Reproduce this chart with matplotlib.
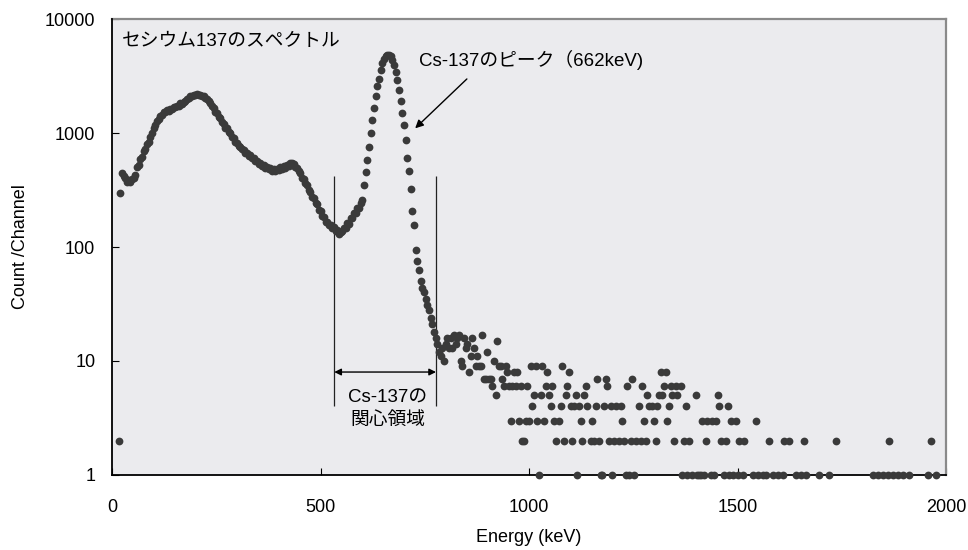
import numpy as np
import matplotlib
matplotlib.use("Agg")
import matplotlib.pyplot as plt
from matplotlib.ticker import NullLocator

plt.rcParams['font.family'] = ['Liberation Sans', 'Noto Sans CJK JP']

# spectrum: 4 keV per channel, 16 keV .. 776 keV
first_kev = 16
kev_per_channel = 4
main_counts = [
    2, 297, 450, 420, 400, 375, 390, 370, 395, 400,
    430, 500, 520, 590, 620, 700, 730, 800, 840, 930,
    1000, 1110, 1170, 1280, 1320, 1420, 1450, 1530, 1520, 1590,
    1560, 1640, 1620, 1700, 1680, 1740, 1740, 1820, 1800, 1890,
    1900, 1990, 2010, 2100, 2100, 2170, 2140, 2190, 2150, 2160,
    2110, 2100, 2020, 1990, 1900, 1850, 1720, 1660, 1540, 1500,
    1380, 1350, 1240, 1210, 1110, 1100, 1020, 1000, 930, 900,
    840, 820, 770, 760, 720, 710, 670, 670, 630, 640,
    600, 600, 565, 570, 540, 550, 515, 520, 490, 505,
    480, 490, 465, 480, 465, 488, 475, 500, 485, 510,
    495, 520, 510, 545, 550, 530, 500, 490, 465, 445,
    405, 395, 365, 350, 315, 305, 275, 270, 245, 236,
    212, 208, 186, 184, 166, 165, 156, 155, 146, 151,
    137, 142, 131, 136, 138, 148, 146, 162, 160, 180,
    180, 200, 200, 220, 222, 245, 257, 350, 457, 577,
    760, 1000, 1300, 1650, 2100, 2560, 3000, 3600, 4100, 4450,
    4700, 4850, 4850, 4700, 4350, 3950, 3460, 2920, 2400, 1920,
    1500, 1180, 870, 600, 465, 325, 208, 155, 94, 75,
    63, 50, 44, 40, 35, 31, 28, 24, 21, 18,
    16,
]

# sparse tail above the peak (empty channels are left out)
tail_energy = [
    780, 784, 788, 792, 796, 800, 804, 808, 812, 816, 820, 824, 828, 832, 836, 840,
    844, 848, 852, 856, 860, 864, 868, 872, 876, 880, 884, 888, 892, 896, 900, 904,
    908, 912, 916, 920, 924, 928, 932, 936, 940, 944, 948, 952, 956, 960, 964, 968,
    972, 976, 980, 984, 988, 992, 996, 1000, 1004, 1008, 1012, 1016, 1020, 1024,
    1028, 1032, 1036, 1040, 1044, 1048, 1052, 1056, 1060, 1064, 1072, 1076, 1080,
    1084, 1088, 1092, 1096, 1100, 1104, 1108, 1112, 1116, 1120, 1124, 1128, 1132,
    1136, 1140, 1148, 1152, 1156, 1160, 1164, 1168, 1172, 1176, 1180, 1184, 1188,
    1192, 1196, 1200, 1204, 1208, 1216, 1220, 1224, 1228, 1232, 1236, 1240, 1244,
    1248, 1252, 1256, 1264, 1268, 1272, 1276, 1280, 1284, 1288, 1296, 1300, 1304,
    1308, 1312, 1316, 1320, 1324, 1328, 1332, 1336, 1340, 1344, 1348, 1352, 1356,
    1364, 1368, 1372, 1376, 1380, 1384, 1392, 1400, 1404, 1408, 1412, 1416, 1420,
    1424, 1428, 1436, 1440, 1444, 1448, 1452, 1456, 1460, 1468, 1472, 1476, 1480,
    1484, 1488, 1496, 1500, 1504, 1512, 1516, 1536, 1544, 1548, 1560, 1568, 1576,
    1584, 1596, 1608, 1612, 1624, 1640, 1652, 1660, 1664, 1696, 1720, 1736, 1824,
    1836, 1848, 1860, 1864, 1872, 1884, 1896, 1912, 1956, 1964, 1976,
]
tail_counts = [
    14, 12, 11, 13, 10, 14, 16, 13, 16, 13, 17, 14, 16, 17, 10, 9,
    16, 13, 14, 8, 11, 16, 13, 9, 11, 9, 9, 17, 7, 7, 12, 7,
    7, 6, 10, 5, 15, 9, 9, 7, 6, 9, 8, 6, 3, 6, 8, 6,
    8, 3, 6, 2, 2, 3, 6, 3, 9, 4, 5, 9, 3, 1,
    5, 9, 3, 6, 8, 5, 4, 6, 3, 2, 3, 4, 9,
    2, 5, 6, 8, 4, 2, 4, 5, 1, 4, 3, 2, 5,
    6, 4, 2, 3, 2, 4, 7, 2, 1, 1, 4, 7, 6,
    2, 4, 1, 2, 4, 2, 4, 3, 2, 1, 6, 1, 2,
    7, 1, 2, 4, 2, 6, 3, 2, 5, 4, 4, 3, 2,
    4, 5, 8, 5, 6, 8, 3, 4, 6, 5, 2, 6, 5,
    6, 1, 2, 4, 1, 2, 1, 5, 1, 1, 1, 3, 1,
    2, 3, 1, 3, 1, 3, 5, 4, 2, 1, 2, 4, 1,
    3, 1, 3, 1, 2, 1, 2, 1, 3, 1, 1, 1, 2,
    1, 1, 1, 2, 2, 1, 1, 2, 1, 1, 1, 2, 1,
    1, 1, 1, 2, 1, 1, 1, 1, 1, 2, 1,
]

x_ticks = [0, 500, 1000, 1500, 2000]
y_ticks = [1, 10, 100, 1000, 10000]
y_tick_labels = ['1', '10', '100', '1000', '10000']

roi_low, roi_high = 533, 777      # keV, region of interest
peak_kev = 662

main_energy = first_kev + kev_per_channel * np.arange(len(main_counts))
energy = np.concatenate([main_energy, tail_energy])
counts = np.concatenate([main_counts, tail_counts])

fig = plt.figure(figsize=(9.68, 5.5), dpi=100)
ax = fig.add_axes([0.1157, 0.1364, 0.8616, 0.829])
ax.set_facecolor('#ebebee')

ax.plot(energy, counts, 'o', ms=5.6, color='#3a3a3a', mec='none',
        clip_on=False, zorder=4)

ax.set_yscale('log')
ax.set_xlim(0, 2000)
ax.set_ylim(1, 10000)
ax.set_xticks(x_ticks)
ax.set_yticks(y_ticks)
ax.set_yticklabels(y_tick_labels)
ax.yaxis.set_minor_locator(NullLocator())
ax.tick_params(axis='both', direction='in', length=5, width=0.8, labelsize=13)
ax.tick_params(axis='x', pad=17)
ax.tick_params(axis='y', pad=12)

for side in ['left', 'bottom']:
    ax.spines[side].set_color('black')
    ax.spines[side].set_linewidth(1.3)
    ax.spines[side].set_zorder(3)
for side in ['top', 'right']:
    ax.spines[side].set_color('#8a8a8a')
    ax.spines[side].set_linewidth(1.6)

ax.set_xlabel('Energy (keV)', fontsize=13)
ax.set_ylabel('Count /Channel', fontsize=13)
ax.xaxis.set_label_coords(0.5, -0.118)
ax.yaxis.set_label_coords(-0.099, 0.5)

ax.text(0.012, 0.95, 'セシウム137のスペクトル', transform=ax.transAxes,
        fontsize=13.5, ha='left', va='center')

# peak label + arrow
ax.text(736, 4365, f'Cs-137のピーク（{peak_kev}keV)', fontsize=13.5,
        ha='left', va='center')
ax.annotate('', xy=(727, 1100), xytext=(851, 2980),
            arrowprops=dict(arrowstyle='-|>', color='black', lw=1,
                            mutation_scale=12, shrinkA=0, shrinkB=0))

# region of interest
ax.vlines([roi_low, roi_high], 4, 420, color='#222222', lw=0.9, zorder=2)
ax.annotate('', xy=(roi_low, 8), xytext=(roi_high, 8),
            arrowprops=dict(arrowstyle='<|-|>', color='black', lw=1,
                            mutation_scale=10, shrinkA=0, shrinkB=0))
ax.text(peak_kev, 3.75, 'Cs-137の\n関心領域', fontsize=13.5,
        ha='center', va='center', linespacing=1.4)

fig.savefig('out.png', dpi=100)
